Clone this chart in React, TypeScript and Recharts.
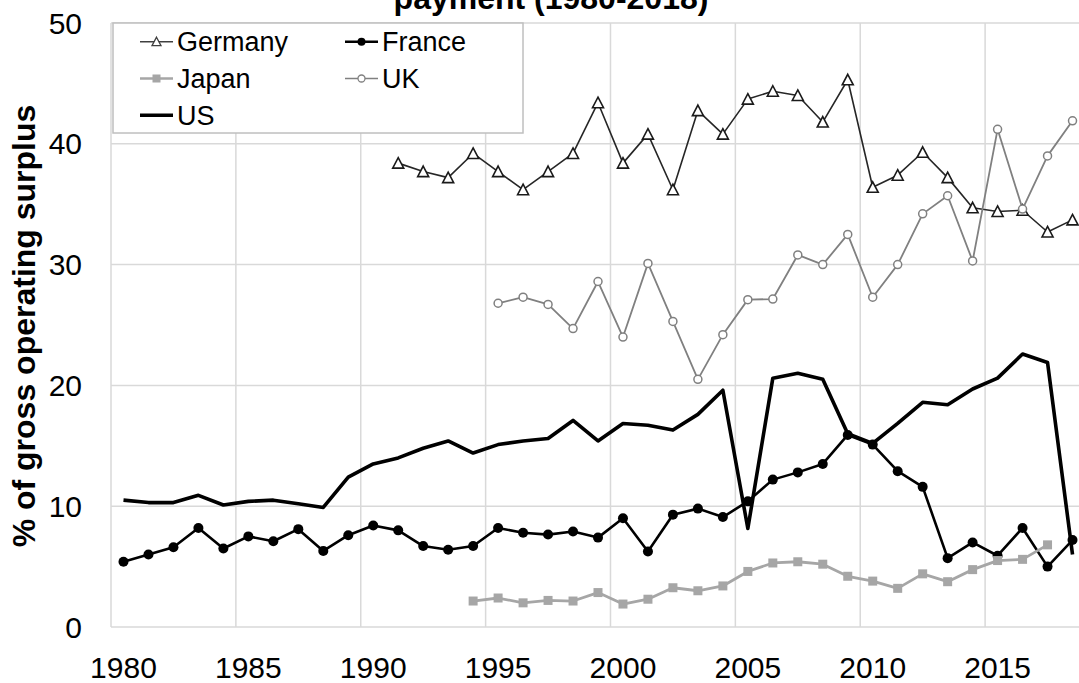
import React from "react";
import { LineChart, Line, XAxis, YAxis, CartesianGrid } from "recharts";

const FONT = "'Liberation Sans', Arial, sans-serif";

const years = [
  1980, 1981, 1982, 1983, 1984, 1985, 1986, 1987, 1988, 1989, 1990, 1991, 1992,
  1993, 1994, 1995, 1996, 1997, 1998, 1999, 2000, 2001, 2002, 2003, 2004, 2005,
  2006, 2007, 2008, 2009, 2010, 2011, 2012, 2013, 2014, 2015, 2016, 2017, 2018,
];
const xTicks = [1980, 1985, 1990, 1995, 2000, 2005, 2010, 2015];
// Excel draws the vertical gridlines between categories
const gridYears = [1979.5, 1984.5, 1989.5, 1994.5, 1999.5, 2004.5, 2009.5, 2014.5];
const yTicks = [0, 10, 20, 30, 40, 50];

const germanyStart = 1991;
const germany = [
  38.4, 37.7, 37.2, 39.2, 37.7, 36.2, 37.7, 39.2, 43.4, 38.4, 40.8, 36.2, 42.75,
  40.8, 43.7, 44.35, 44.0, 41.8, 45.3, 36.4, 37.4, 39.3, 37.2, 34.7, 34.4, 34.5,
  32.7, 33.7,
];

const franceStart = 1980;
const france = [
  5.4, 6.0, 6.6, 8.2, 6.5, 7.5, 7.1, 8.1, 6.3, 7.6, 8.4, 8.0, 6.7, 6.4, 6.7, 8.2,
  7.8, 7.65, 7.9, 7.4, 9.0, 6.25, 9.3, 9.8, 9.1, 10.4, 12.2, 12.8, 13.5, 15.9,
  15.1, 12.9, 11.6, 5.7, 7.0, 5.9, 8.2, 5.0, 7.2,
];

const japanStart = 1994;
const japan = [
  2.15, 2.4, 2.0, 2.2, 2.15, 2.85, 1.9, 2.3, 3.25, 3.0, 3.4, 4.6, 5.3, 5.4, 5.2,
  4.2, 3.8, 3.2, 4.4, 3.75, 4.75, 5.5, 5.6, 6.8,
];

const ukStart = 1995;
const uk = [
  26.8, 27.3, 26.7, 24.7, 28.6, 24.0, 30.1, 25.3, 20.5, 24.2, 27.1, 27.15, 30.8,
  30.0, 32.5, 27.3, 30.0, 34.2, 35.7, 30.3, 41.2, 34.6, 39.0, 41.9,
];

const usStart = 1980;
const us = [
  10.5, 10.3, 10.3, 10.9, 10.1, 10.4, 10.5, 10.2, 9.9, 12.4, 13.5, 14.0, 14.8,
  15.4, 14.4, 15.1, 15.4, 15.6, 17.1, 15.4, 16.85, 16.7, 16.3, 17.6, 19.6, 8.15,
  20.6, 21.0, 20.5, 16.0, 15.2, 16.85, 18.6, 18.4, 19.7, 20.6, 22.6, 21.9, 6.0,
];

function pick(start: number, values: number[], year: number) {
  const v = values[year - start];
  return v === undefined ? null : v;
}

const data = years.map((year) => ({
  year,
  germany: pick(germanyStart, germany, year),
  france: pick(franceStart, france, year),
  japan: pick(japanStart, japan, year),
  uk: pick(ukStart, uk, year),
  us: pick(usStart, us, year),
}));

function TriangleDot(props: any) {
  const { cx, cy, index } = props;
  if (cx == null || cy == null || props.value == null) return <g key={`t${index}`} />;
  return (
    <path
      key={`t${index}`}
      d={`M${cx},${cy - 5.5} L${cx + 5.5},${cy + 5} L${cx - 5.5},${cy + 5} Z`}
      fill="#fff"
      stroke="#1a1a1a"
      strokeWidth={1.6}
    />
  );
}

function SquareDot(props: any) {
  const { cx, cy, index } = props;
  if (cx == null || cy == null || props.value == null) return <g key={`s${index}`} />;
  return <rect key={`s${index}`} x={cx - 4.5} y={cy - 4.5} width={9} height={9} fill="#a6a6a6" />;
}

const legendRows = [
  { name: "Germany", col: 0, row: 0 },
  { name: "France", col: 1, row: 0 },
  { name: "Japan", col: 0, row: 1 },
  { name: "UK", col: 1, row: 1 },
  { name: "US", col: 0, row: 2 },
];

function LegendSymbol({ name, x, y }: { name: string; x: number; y: number }) {
  const x2 = x + 33;
  const mid = x + 16.5;
  if (name === "Germany")
    return (
      <g>
        <line x1={x} y1={y} x2={x2} y2={y} stroke="#404040" strokeWidth={1.6} />
        <path d={`M${mid},${y - 4.5} L${mid + 4.5},${y + 4} L${mid - 4.5},${y + 4} Z`} fill="#fff" stroke="#404040" strokeWidth={1.3} />
      </g>
    );
  if (name === "France")
    return (
      <g>
        <line x1={x} y1={y} x2={x2} y2={y} stroke="#000" strokeWidth={2.5} />
        <circle cx={mid} cy={y} r={4} fill="#000" />
      </g>
    );
  if (name === "Japan")
    return (
      <g>
        <line x1={x} y1={y} x2={x2} y2={y} stroke="#a6a6a6" strokeWidth={2.5} />
        <rect x={mid - 4} y={y - 4} width={8} height={8} fill="#a6a6a6" />
      </g>
    );
  if (name === "UK")
    return (
      <g>
        <line x1={x} y1={y} x2={x2} y2={y} stroke="#808080" strokeWidth={1.6} />
        <circle cx={mid} cy={y} r={3.5} fill="#fff" stroke="#808080" strokeWidth={1.3} />
      </g>
    );
  return <line x1={x} y1={y} x2={x2} y2={y} stroke="#000" strokeWidth={3.5} />;
}

export default function App() {
  return (
    <div
      style={{
        position: "absolute",
        left: 0,
        top: 0,
        width: 1079,
        height: 683,
        overflow: "hidden",
        background: "#fff",
        fontFamily: FONT,
      }}
    >
      <LineChart
        width={1100}
        height={683}
        data={data}
        margin={{ top: 23, right: 15, bottom: 0, left: 0 }}
      >
        <CartesianGrid horizontal={false} xAxisId="grid" stroke="#d9d9d9" strokeWidth={1.5} />
        <CartesianGrid vertical={false} stroke="#d9d9d9" strokeWidth={1.5} />
        <XAxis
          xAxisId="grid"
          type="number"
          dataKey="year"
          domain={[1979.5, 2018.5]}
          ticks={gridYears}
          interval={0}
          allowDataOverflow
          hide
        />
        <XAxis
          type="number"
          dataKey="year"
          domain={[1979.5, 2018.5]}
          ticks={xTicks}
          interval={0}
          allowDataOverflow
          axisLine={false}
          tickLine={false}
          tickSize={0}
          tickMargin={30}
          height={56}
          tick={{ fontSize: 30, fill: "#000", fontFamily: FONT }}
        />
        <YAxis
          domain={[0, 50]}
          ticks={yTicks}
          interval={0}
          width={111}
          axisLine={false}
          tickLine={false}
          tickSize={0}
          tickMargin={29}
          tick={{ fontSize: 30, fill: "#000", fontFamily: FONT }}
        />
        <Line
          dataKey="germany"
          stroke="#262626"
          strokeWidth={1.6}
          strokeLinejoin="round"
          dot={TriangleDot}
          activeDot={false}
          isAnimationActive={false}
        />
        <Line
          dataKey="france"
          stroke="#000"
          strokeWidth={2.6}
          strokeLinejoin="round"
          dot={{ r: 5, fill: "#000", stroke: "none" }}
          activeDot={false}
          isAnimationActive={false}
        />
        <Line
          dataKey="japan"
          stroke="#a6a6a6"
          strokeWidth={2.8}
          strokeLinejoin="round"
          dot={SquareDot}
          activeDot={false}
          isAnimationActive={false}
        />
        <Line
          dataKey="uk"
          stroke="#808080"
          strokeWidth={1.8}
          strokeLinejoin="round"
          dot={{ r: 4, fill: "#fff", stroke: "#808080", strokeWidth: 1.5 }}
          activeDot={false}
          isAnimationActive={false}
        />
        <Line
          dataKey="us"
          stroke="#000"
          strokeWidth={3.6}
          strokeLinejoin="round"
          dot={false}
          activeDot={false}
          isAnimationActive={false}
        />
      </LineChart>
      <svg
        width={1079}
        height={683}
        style={{ position: "absolute", left: 0, top: 0, pointerEvents: "none" }}
      >
        <text x={551} y={9} textAnchor="middle" fontSize={32} fontWeight="bold" fontFamily={FONT} fill="#000">
          payment (1980-2018)
        </text>
        <text
          transform="translate(35,326) rotate(-90)"
          textAnchor="middle"
          fontSize={32}
          fontWeight="bold"
          fontFamily={FONT}
          fill="#000"
        >
          % of gross operating surplus
        </text>
        <rect x={113} y={23} width={410} height={110} fill="#fff" stroke="#bfbfbf" strokeWidth={1.5} />
        {legendRows.map((r) => {
          const x = r.col === 0 ? 140 : 345;
          const y = [41.7, 78.5, 115.3][r.row];
          return (
            <g key={r.name}>
              <LegendSymbol name={r.name} x={x} y={y} />
              <text x={x + 37} y={y + 9.5} fontSize={27} fontFamily={FONT} fill="#000">
                {r.name}
              </text>
            </g>
          );
        })}
      </svg>
    </div>
  );
}
